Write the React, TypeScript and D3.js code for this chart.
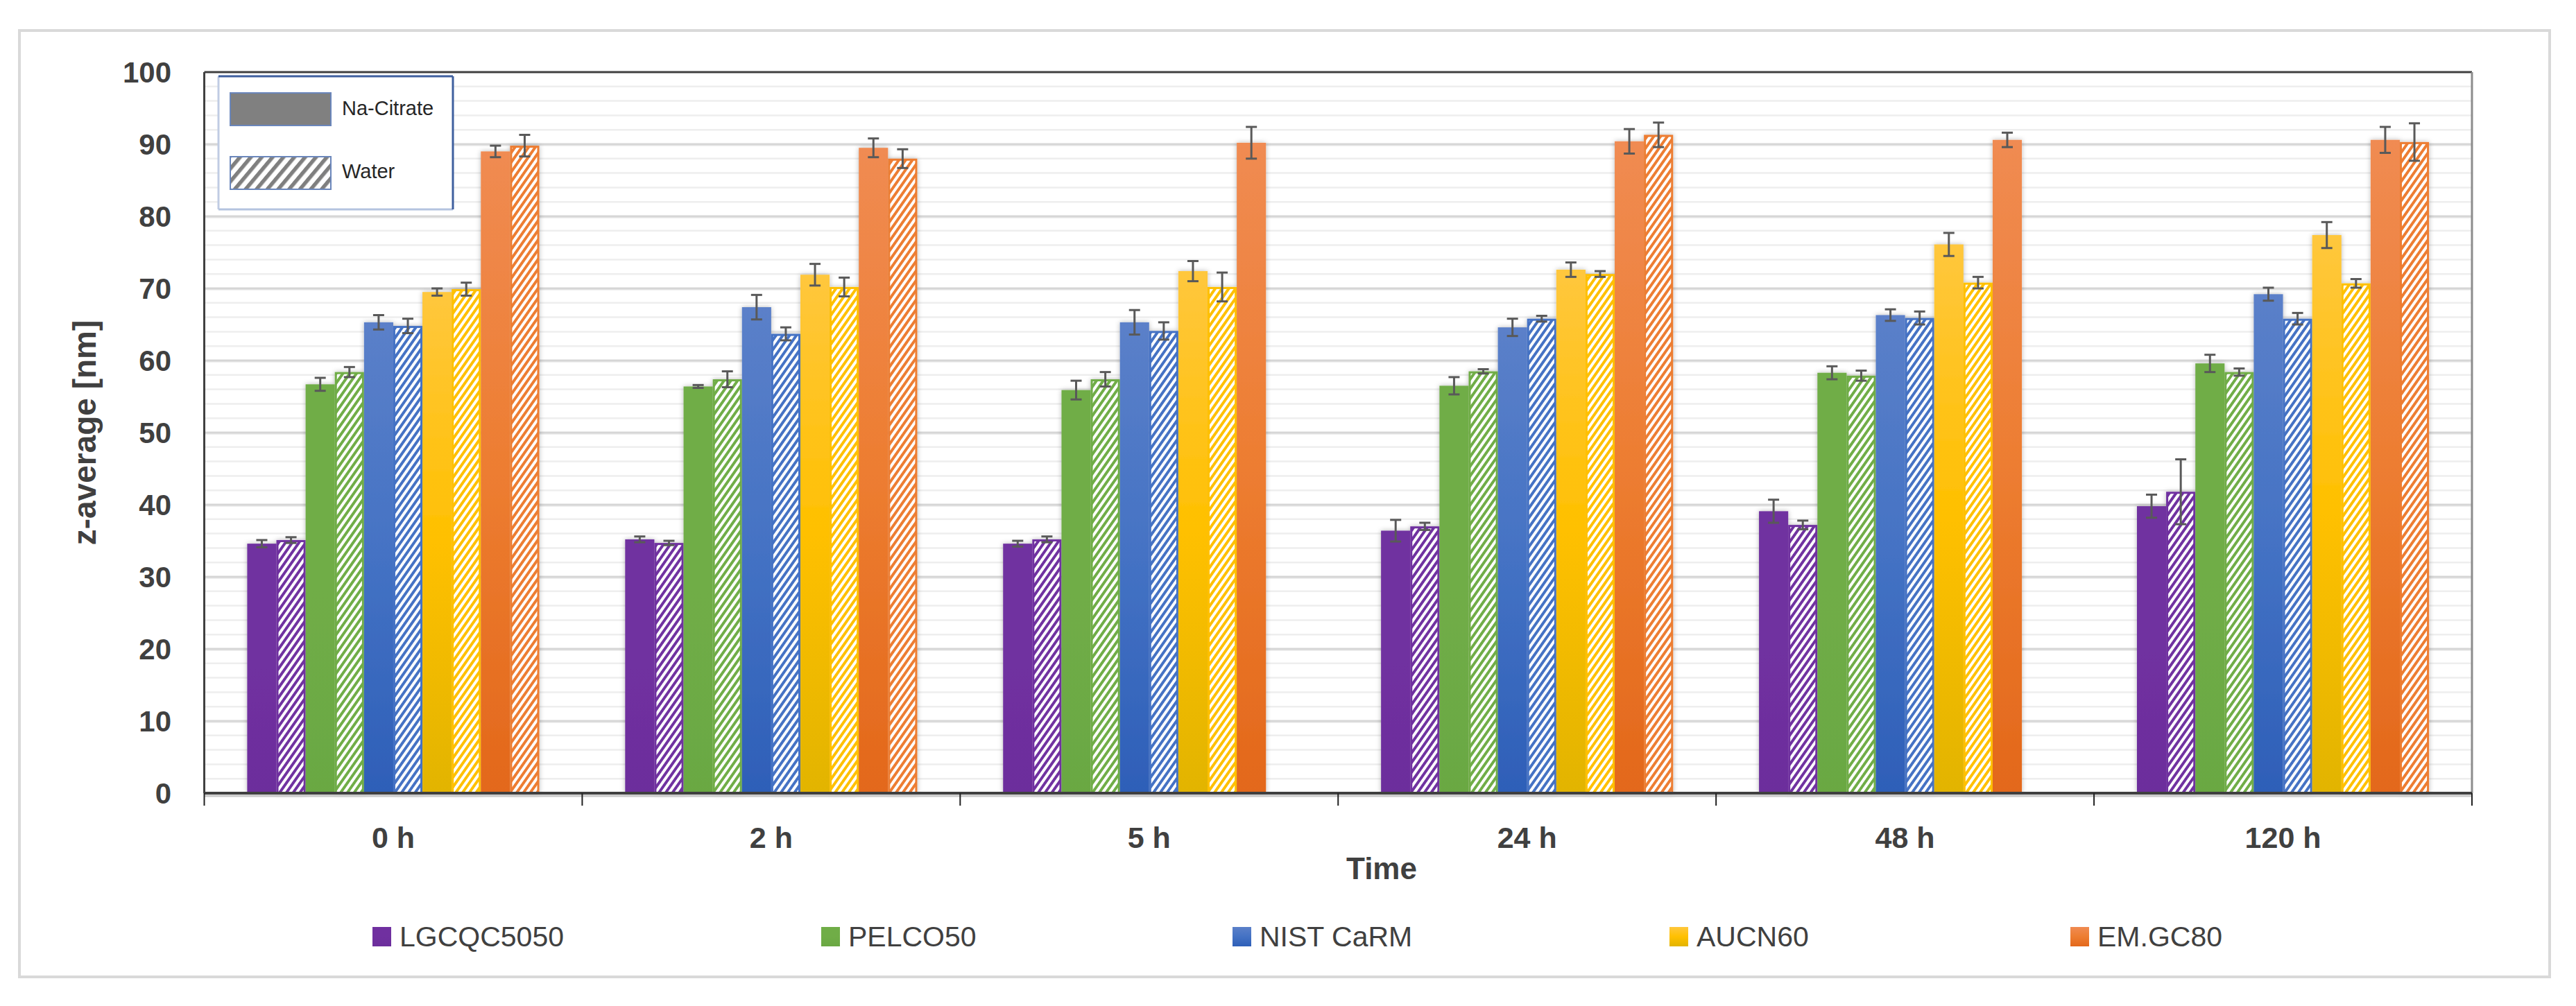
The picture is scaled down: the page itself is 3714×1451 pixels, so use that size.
import * as d3 from 'd3';
import { useEffect } from 'react';

const W = 3714;
const H = 1451;
const PLOT = { left: 294.5, right: 3564, top: 104, bottom: 1144 };
const FONT = '"Liberation Sans", Arial, sans-serif';

// categories / series
const categories = ['0 h', '2 h', '5 h', '24 h', '48 h', '120 h'];
const samples = ['LGCQC5050', 'PELCO50', 'NIST CaRM', 'AUCN60', 'EM.GC80'];
const media = ['Na-Citrate', 'Water'];

// z-average values [nm], one entry per time point
const lgcNa = [34.6, 35.2, 34.6, 36.4, 39.1, 39.8];
const lgcNaErr = [0.5, 0.4, 0.4, 1.5, 1.6, 1.6];
const lgcWater = [35.1, 34.7, 35.2, 37.0, 37.2, 41.8];
const lgcWaterErr = [0.4, 0.3, 0.4, 0.5, 0.6, 4.5];

const pelcoNa = [56.7, 56.4, 55.9, 56.5, 58.3, 59.6];
const pelcoNaErr = [0.9, 0.2, 1.3, 1.2, 0.9, 1.2];
const pelcoWater = [58.4, 57.4, 57.4, 58.5, 57.9, 58.4];
const pelcoWaterErr = [0.7, 1.1, 1.0, 0.3, 0.7, 0.5];

const nistNa = [65.3, 67.4, 65.3, 64.6, 66.3, 69.2];
const nistNaErr = [1.0, 1.7, 1.7, 1.2, 0.8, 0.9];
const nistWater = [64.8, 63.7, 64.1, 65.8, 65.9, 65.8];
const nistWaterErr = [1.0, 0.9, 1.2, 0.4, 0.9, 0.8];

const aucNa = [69.5, 71.9, 72.4, 72.6, 76.1, 77.4];
const aucNaErr = [0.5, 1.5, 1.4, 1.0, 1.6, 1.8];
const aucWater = [69.9, 70.2, 70.2, 72.0, 70.8, 70.7];
const aucWaterErr = [0.9, 1.3, 2.0, 0.4, 0.8, 0.6];

const emNa = [89.0, 89.5, 90.2, 90.4, 90.6, 90.6];
const emNaErr = [0.8, 1.3, 2.2, 1.7, 1.0, 1.8];
const emWater = [89.8, 88.0, null, 91.3, null, 90.3];
const emWaterErr = [1.5, 1.3, null, 1.7, null, 2.6];

const yTicks = [0, 10, 20, 30, 40, 50, 60, 70, 80, 90, 100];

// colours: base, gradient top, gradient bottom
const baseColors = ['#7030a0', '#70ad47', '#4472c4', '#ffc000', '#ed7d31'];
const topColors = ['#7030a0', '#70ad47', '#5b80c9', '#ffc73d', '#f08b52'];
const bottomColors = ['#6c2e9c', '#6aa843', '#2e5fb8', '#e2b400', '#e3681b'];

const seriesValues = [
  [lgcNa, lgcWater], [pelcoNa, pelcoWater], [nistNa, nistWater], [aucNa, aucWater], [emNa, emWater],
];
const seriesErrors = [
  [lgcNaErr, lgcWaterErr], [pelcoNaErr, pelcoWaterErr], [nistNaErr, nistWaterErr],
  [aucNaErr, aucWaterErr], [emNaErr, emWaterErr],
];

const LEGEND_X = [537, 1184, 1777, 2407, 2985];

export default function App() {
  useEffect(() => {
    document.body.style.margin = '0';
  }, []);

  const x0 = d3.scaleBand().domain(categories).range([PLOT.left, PLOT.right]);
  const barKeys = samples.flatMap((s) => media.map((m) => `${s}|${m}`));
  const x1 = d3.scaleBand().domain(barKeys).range([0, x0.bandwidth()]).paddingOuter(1.47);
  const y = d3.scaleLinear().domain([0, 100]).range([PLOT.bottom, PLOT.top]);
  const minorTicks = d3.range(2, 100, 2).filter((v) => v % 10 !== 0);

  const bars = [];
  categories.forEach((cat, ci) => {
    samples.forEach((s, si) => {
      media.forEach((m, mi) => {
        const v = seriesValues[si][mi][ci];
        if (v == null) return;
        const e = seriesErrors[si][mi][ci];
        bars.push({ cat, s, si, m, mi, v, e, x: x0(cat) + x1(`${s}|${m}`) });
      });
    });
  });
  const bw = x1.bandwidth();

  return (
    <svg width={W} height={H} style={{ position: 'absolute', left: 0, top: 0, background: '#fff' }} fontFamily={FONT}>
      <defs>
        {samples.map((s, i) => (
          <linearGradient key={`g${i}`} id={`grad${i}`} x1="0" y1="0" x2="0" y2="1">
            <stop offset="0" stopColor={topColors[i]} />
            <stop offset="0.5" stopColor={baseColors[i]} />
            <stop offset="1" stopColor={bottomColors[i]} />
          </linearGradient>
        ))}
        {samples.map((s, i) => (
          <pattern key={`p${i}`} id={`hatch${i}`} patternUnits="userSpaceOnUse" width="8" height="8"
            patternTransform="rotate(35)">
            <rect width="8" height="8" fill="#fff" />
            <rect width="4" height="8" fill={baseColors[i]} />
          </pattern>
        ))}
        <pattern id="hatchGray" patternUnits="userSpaceOnUse" width="12" height="12" patternTransform="rotate(40)">
          <rect width="12" height="12" fill="#fff" />
          <rect width="5.5" height="12" fill="#7f7f7f" />
        </pattern>
        <filter id="shadow" x="-20%" y="-5%" width="140%" height="110%">
          <feDropShadow dx="0" dy="0" stdDeviation="3.5" floodColor="#000" floodOpacity="0.28" />
        </filter>
      </defs>

      {/* outer chart border */}
      <rect x={28} y={44} width={3648} height={1365} fill="#fff" stroke="#d9d9d9" strokeWidth={4} />

      {/* grid */}
      {minorTicks.map((t) => (
        <line key={`mn${t}`} x1={PLOT.left} x2={PLOT.right} y1={y(t)} y2={y(t)} stroke="#eeeeee" strokeWidth={2.5} />
      ))}
      {yTicks.filter((t) => t > 0 && t < 100).map((t) => (
        <g key={`mj${t}`}>
          <line x1={PLOT.left} x2={PLOT.right} y1={y(t) + 2} y2={y(t) + 2} stroke="#efefef" strokeWidth={2} />
          <line x1={PLOT.left} x2={PLOT.right} y1={y(t)} y2={y(t)} stroke="#d6d6d6" strokeWidth={3} />
        </g>
      ))}

      {/* plot frame */}
      <line x1={PLOT.left} x2={PLOT.right} y1={PLOT.top} y2={PLOT.top} stroke="#404040" strokeWidth={3} />
      <line x1={PLOT.left} x2={PLOT.left} y1={PLOT.top} y2={PLOT.bottom} stroke="#404040" strokeWidth={3} />
      <line x1={PLOT.right} x2={PLOT.right} y1={PLOT.top} y2={PLOT.bottom} stroke="#8c8c8c" strokeWidth={3} />

      {/* bars */}
      <g filter="url(#shadow)">
        {bars.map((b, i) => (
          <rect key={`b${i}`}
            x={b.mi === 1 ? b.x + 1.5 : b.x}
            y={b.mi === 1 ? y(b.v) + 1.5 : y(b.v)}
            width={b.mi === 1 ? bw - 3 : bw}
            height={b.mi === 1 ? y(0) - y(b.v) - 1.5 : y(0) - y(b.v)}
            fill={b.mi === 1 ? `url(#hatch${b.si})` : `url(#grad${b.si})`}
            stroke={b.mi === 1 ? baseColors[b.si] : 'none'}
            strokeWidth={3} />
        ))}
      </g>

      {/* error bars */}
      <g stroke="#595959" strokeWidth={3}>
        {bars.map((b, i) => {
          const cx = b.x + bw / 2;
          return (
            <g key={`e${i}`}>
              <line x1={cx} x2={cx} y1={y(b.v + b.e)} y2={y(b.v - b.e)} />
              <line x1={cx - 8} x2={cx + 8} y1={y(b.v + b.e)} y2={y(b.v + b.e)} />
              <line x1={cx - 8} x2={cx + 8} y1={y(b.v - b.e)} y2={y(b.v - b.e)} />
            </g>
          );
        })}
      </g>

      {/* x axis */}
      <line x1={PLOT.left} x2={PLOT.right} y1={PLOT.bottom + 4} y2={PLOT.bottom + 4} stroke="#c8c8c8" strokeWidth={3} />
      <line x1={PLOT.left} x2={PLOT.right} y1={PLOT.bottom} y2={PLOT.bottom} stroke="#404040" strokeWidth={4} />
      {categories.map((c) => (
        <line key={`tk${c}`} x1={x0(c)} x2={x0(c)} y1={PLOT.bottom} y2={PLOT.bottom + 18} stroke="#202020" strokeWidth={2} />
      ))}
      <line x1={PLOT.right} x2={PLOT.right} y1={PLOT.bottom} y2={PLOT.bottom + 18} stroke="#202020" strokeWidth={2} />
      {categories.map((c) => (
        <text key={`cl${c}`} x={x0(c) + x0.bandwidth() / 2} y={1223} textAnchor="middle"
          fontSize={43} fontWeight="bold" fill="#404040">{c}</text>
      ))}
      <text x={1992} y={1268} textAnchor="middle" fontSize={44} fontWeight="bold" fill="#404040">Time</text>

      {/* y axis labels */}
      {yTicks.map((t) => (
        <text key={`yl${t}`} x={247} y={y(t) + 15} textAnchor="end" fontSize={42} fontWeight="bold" fill="#404040">{t}</text>
      ))}
      <text transform={`translate(138, ${(PLOT.top + PLOT.bottom) / 2}) rotate(-90)`} textAnchor="middle"
        fontSize={46} fontWeight="bold" fill="#404040">z-average [nm]</text>

      {/* inset legend: media */}
      <rect x={315} y={110} width={338} height={192} fill="#fff" />
      <line x1={315} x2={315} y1={110} y2={302} stroke="#c0cce3" strokeWidth={3} />
      <line x1={315} x2={653} y1={302} y2={302} stroke="#b4c3df" strokeWidth={3} />
      <line x1={315} x2={653} y1={110} y2={110} stroke="#3e5f9e" strokeWidth={3} />
      <line x1={653} x2={653} y1={110} y2={302} stroke="#3e5f9e" strokeWidth={3} />
      <rect x={332} y={134} width={145} height={47} fill="#808080" stroke="#6a86bb" strokeWidth={2} />
      <rect x={332} y={226} width={145} height={47} fill="url(#hatchGray)" stroke="#6a86bb" strokeWidth={2} />
      <text x={493} y={166} fontSize={29} fill="#262626">{media[0]}</text>
      <text x={493} y={257} fontSize={29} fill="#262626">{media[1]}</text>

      {/* bottom legend: samples */}
      {samples.map((s, i) => (
        <g key={`lg${s}`}>
          <rect x={LEGEND_X[i]} y={1337} width={27} height={28} fill={`url(#grad${i})`} />
          <text x={LEGEND_X[i] + 39} y={1365} fontSize={41} fill="#404040">{s}</text>
        </g>
      ))}
    </svg>
  );
}
